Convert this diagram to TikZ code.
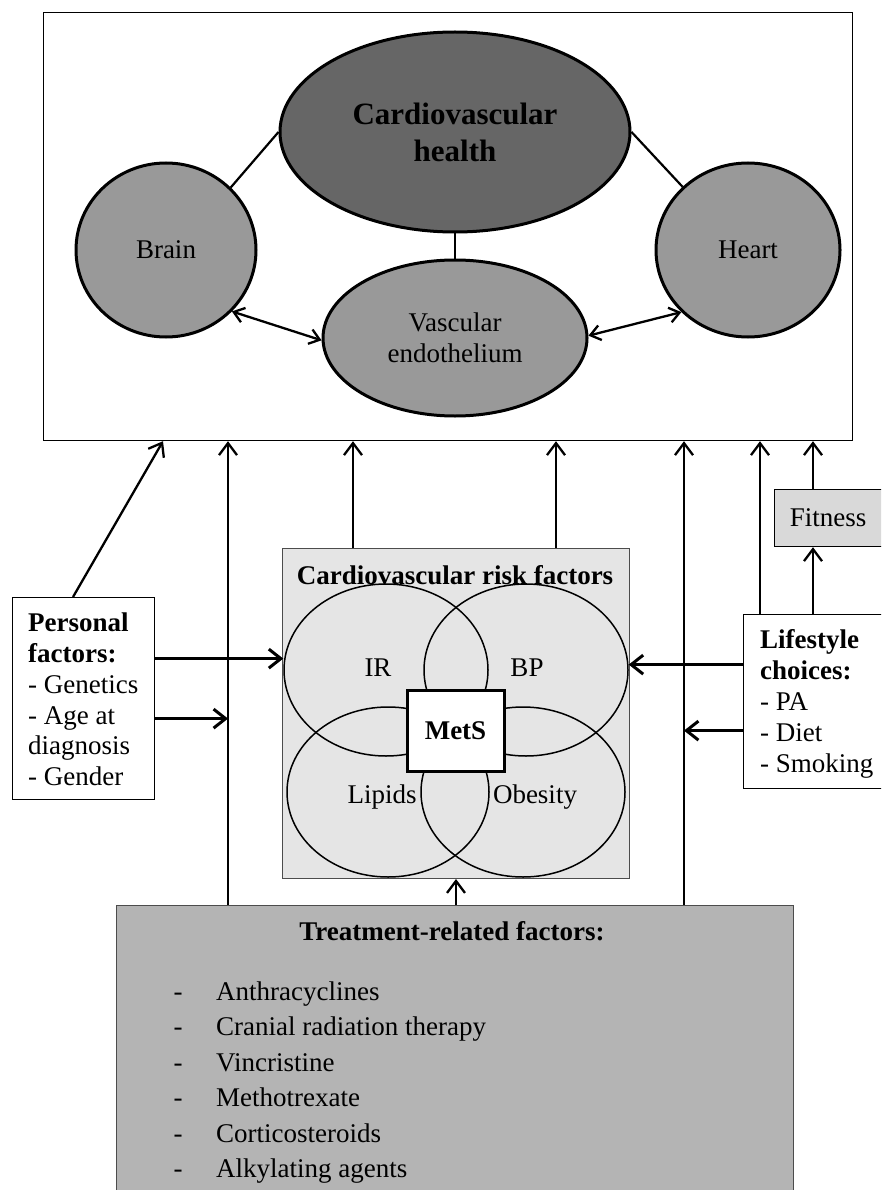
\documentclass[tikz,border=0pt]{standalone}
\usepackage{fontspec}
\setmainfont{Liberation Serif}
\usetikzlibrary{arrows.meta,shapes.geometric,calc}
\definecolor{cvhc}{gray}{0.4}
\definecolor{orgc}{gray}{0.6}
\definecolor{riskc}{gray}{0.9}
\definecolor{fitc}{gray}{0.85}
\definecolor{treatc}{gray}{0.705}
\tikzset{
  tx/.style={font=\fontsize{27}{31}\selectfont, inner sep=0},
  txb/.style={font=\fontsize{27}{31}\selectfont\bfseries, inner sep=0},
  bigell/.style={ellipse, draw, line width=3pt, inner sep=0, fill=orgc, font=\fontsize{27}{31}\selectfont, align=center},
  venn/.style={ellipse, draw, line width=1.5pt, inner sep=0},
  plainbox/.style={draw, line width=1.2pt, inner sep=0, anchor=north west},
  arr/.style={line width=2.3pt, -{Straight Barb[length=12pt,width=18pt]}},
  thickarr/.style={line width=3pt, -{Straight Barb[length=12pt,width=19pt]}},
  dblarr/.style={line width=2.3pt, {Straight Barb[length=10pt,width=15pt]}-{Straight Barb[length=10pt,width=15pt]}},
  link/.style={line width=2.2pt}
}
\begin{document}
\begin{tikzpicture}[x=1pt,y=-1pt]
\clip (0,0) rectangle (881,1190);
\fill[white] (0,0) rectangle (881,1190);

% top box
\node[plainbox, line width=1.2pt, minimum width=809, minimum height=428] (top) at (43,12) {};

% organ ellipses
\node[bigell, fill=cvhc, minimum width=350, minimum height=200, font=\fontsize{31}{37}\selectfont\bfseries] (cvh) at (455,132) {Cardiovascular\\health};
\node[bigell, minimum width=180, minimum height=174] (brain) at (166,250) {Brain};
\node[bigell, minimum width=184, minimum height=174] (heart) at (748,250) {Heart};
\node[bigell, minimum width=264, minimum height=156] (vasc) at (455,338) {Vascular\\endothelium};

\draw[link] (cvh.west) -- (brain.44);
\draw[link] (cvh.east) -- (heart.136);
\draw[link] (cvh.south) -- (vasc.north);
\draw[dblarr] (brain.-43) -- (vasc.181);
\draw[dblarr] (heart.-137) -- (vasc.1);

% risk factor box
\node[plainbox, draw=black!70, line width=1pt, fill=riskc, minimum width=347, minimum height=330] (risk) at (282,548) {};
\node[txb] (risktitle) at (455,575) {Cardiovascular risk factors};
\node[venn, minimum width=204, minimum height=172] (ir) at (386,670) {};
\node[venn, minimum width=204, minimum height=172] (bp) at (526,670) {};
\node[venn, minimum width=202, minimum height=170] (lip) at (388,792) {};
\node[venn, minimum width=204, minimum height=170] (obe) at (523,792) {};
\node[tx] (irl) at (378,668) {IR};
\node[tx] (bpl) at (527,668) {BP};
\node[tx] (lipl) at (382,797) {Lipids};
\node[tx] (obel) at (535,797) {Obesity};
\node[draw, line width=3pt, fill=white, minimum width=97, minimum height=81, inner sep=0, font=\fontsize{27}{31}\selectfont\bfseries] (mets) at (455.5,730.5) {MetS};

% personal factors
\node[plainbox, fill=white, minimum width=142, minimum height=202] (pers) at (12,597) {};
\node[txb, anchor=base west] (p1) at (28,631) {Personal};
\node[txb, anchor=base west] (p2) at (28,662) {factors:};
\node[tx, anchor=base west] (p3) at (28,693) {- Genetics};
\node[tx, anchor=base west] (p4) at (28,724) {- Age at};
\node[tx, anchor=base west] (p5) at (28,754) {diagnosis};
\node[tx, anchor=base west] (p6) at (28,785) {- Gender};

% lifestyle
\node[plainbox, fill=white, minimum width=160, minimum height=174] (life) at (743,614) {};
\node[txb, anchor=base west] (l1) at (760,648) {Lifestyle};
\node[txb, anchor=base west] (l2) at (760,679) {choices:};
\node[tx, anchor=base west] (l3) at (760,710) {- PA};
\node[tx, anchor=base west] (l4) at (760,741) {- Diet};
\node[tx, anchor=base west] (l5) at (760,772) {- Smoking};

% fitness
\node[plainbox, fill=fitc, minimum width=130, minimum height=57] (fit) at (774,489) {};
\node[tx] (fitl) at (828,517.5) {Fitness};

% treatment
\node[plainbox, draw=black!70, fill=treatc, minimum width=677, minimum height=310] (treat) at (116,905) {};
\node[txb] (tt) at (452,931) {Treatment-related factors:};
\foreach \t [count=\i] in {Anthracyclines, Cranial radiation therapy, Vincristine, Methotrexate, Corticosteroids, Alkylating agents}{
  \node[tx, anchor=base] (d\i) at (178,{1000+35.5*(\i-1)}) {-};
  \node[tx, anchor=base west] (it\i) at (216,{1000+35.5*(\i-1)}) {\t};
}

% connectors to top box
\coordinate (t1) at ([xshift=112]treat.north west);
\coordinate (t2) at ([xshift=568]treat.north west);
\coordinate (pstart) at ([xshift=61]pers.north west);
\draw[arr] (pstart) -- ([xshift=120]top.south west);
\draw[arr] (t1) -- (t1 |- top.south);
\draw[arr] ([xshift=71]risk.north west) -- ([xshift=71]risk.north west |- top.south);
\draw[arr] ([xshift=274]risk.north west) -- ([xshift=274]risk.north west |- top.south);
\draw[arr] (t2) -- (t2 |- top.south);
\draw[arr] ([xshift=17]life.north west) -- ([xshift=17]life.north west |- top.south);
\draw[arr] ([xshift=39]fit.north west) -- ([xshift=39]fit.north west |- top.south);
\draw[arr] ([xshift=70]life.north west) -- ([xshift=70]life.north west |- fit.south);

% side arrows
\coordinate (pa1) at ([yshift=40]pers.east);
\coordinate (pa2) at ([yshift=-20]pers.east);
\coordinate (la1) at ([yshift=37]life.west);
\coordinate (la2) at ([yshift=-29]life.west);
\draw[thickarr] (pa1) -- (pa1 -| ir.west);
\draw[thickarr] (pa2) -- (pa2 -| t1);
\draw[thickarr] (la1) -- (la1 -| bp.east);
\draw[thickarr] (la2) -- (la2 -| t2);

% treatment to risk box
\draw[arr] (treat.north -| risk.south) -- (risk.south);
\end{tikzpicture}
\end{document}
